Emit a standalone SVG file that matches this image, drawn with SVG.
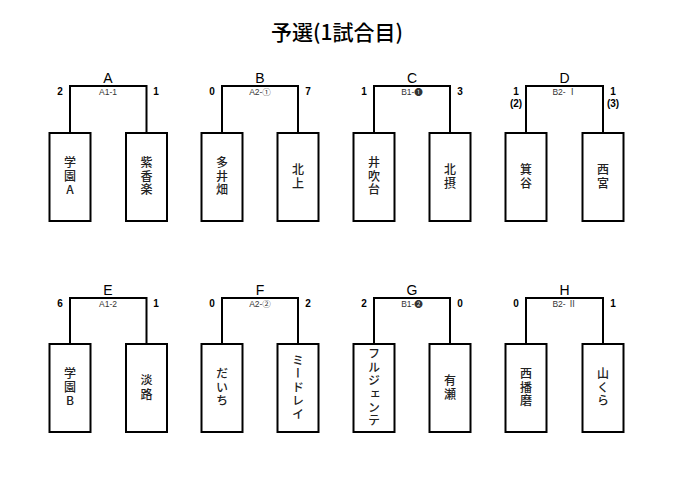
<svg xmlns="http://www.w3.org/2000/svg" width="689" height="502" viewBox="0 0 689 502">
<style>
.br{fill:none;stroke:#000;stroke-width:2}
.box{fill:#fff;stroke:#000;stroke-width:2}
.title{font-family:"Noto Sans CJK JP","Liberation Sans",sans-serif;font-size:21px;font-weight:500;text-anchor:middle}
.grp{font-family:"Liberation Sans","Noto Sans CJK JP",sans-serif;font-size:14px;text-anchor:middle}
.sc{font-family:"Liberation Sans","Noto Sans CJK JP",sans-serif;font-size:10px;font-weight:bold;text-anchor:middle}
.lb{font-family:"Liberation Sans","Noto Sans CJK JP",sans-serif;font-size:8.5px;text-anchor:middle;fill:#333}
.nm{font-family:"Noto Sans CJK JP",sans-serif;font-size:12px;font-weight:500;letter-spacing:1.4px;writing-mode:vertical-rl;text-orientation:upright;text-anchor:middle;fill:#222}
</style>
<rect width="689" height="502" fill="#fff"/>
<text class="title" x="337" y="40">予選(1試合目)</text>
<g id="connectors">
<path class="br" d="M70,133V86H146.5V133"/>
<path class="br" d="M222,133V86H298V133"/>
<path class="br" d="M374,133V86H450V133"/>
<path class="br" d="M526,133V86H603V133"/>
<path class="br" d="M70,344V298H146.5V344"/>
<path class="br" d="M222,344V298H298V344"/>
<path class="br" d="M374,344V298H450V344"/>
<path class="br" d="M526,344V298H603V344"/>
</g>
<g id="A">
<text class="grp" x="108" y="83">A</text>
<text class="sc" x="60" y="95">2</text><text class="sc" x="156" y="95">1</text>
<text class="lb" x="108" y="95">A1-1</text>
<rect class="box" x="49.5" y="133" width="41" height="88"/>
<text class="nm" x="70" y="177">学園A</text>
<rect class="box" x="126" y="133" width="41" height="88"/>
<text class="nm" x="146.5" y="177">紫香楽</text>
</g>
<g id="B">
<text class="grp" x="260" y="83">B</text>
<text class="sc" x="212" y="95">0</text><text class="sc" x="308" y="95">7</text>
<text class="lb" x="260" y="95">A2-①</text>
<rect class="box" x="201.5" y="133" width="41" height="88"/>
<text class="nm" x="222" y="177">多井畑</text>
<rect class="box" x="277.5" y="133" width="41" height="88"/>
<text class="nm" x="298" y="177">北上</text>
</g>
<g id="C">
<text class="grp" x="412" y="83">C</text>
<text class="sc" x="364" y="95">1</text><text class="sc" x="460" y="95">3</text>
<text class="lb" x="412" y="95">B1-❶</text>
<rect class="box" x="353.5" y="133" width="41" height="88"/>
<text class="nm" x="374" y="177">井吹台</text>
<rect class="box" x="429.5" y="133" width="41" height="88"/>
<text class="nm" x="450" y="177">北摂</text>
</g>
<g id="D">
<text class="grp" x="564.5" y="83">D</text>
<text class="sc" x="516" y="95">1</text><text class="sc" x="516" y="107">(2)</text>
<text class="sc" x="613" y="95">1</text><text class="sc" x="613" y="107">(3)</text>
<text class="lb" x="564.5" y="95">B2- Ⅰ</text>
<rect class="box" x="505.5" y="133" width="41" height="88"/>
<text class="nm" x="526" y="177">箕谷</text>
<rect class="box" x="582.5" y="133" width="41" height="88"/>
<text class="nm" x="603" y="177">西宮</text>
</g>
<g id="E">
<text class="grp" x="108" y="295">E</text>
<text class="sc" x="60" y="307">6</text><text class="sc" x="156" y="307">1</text>
<text class="lb" x="108" y="307">A1-2</text>
<rect class="box" x="49.5" y="344" width="41" height="88"/>
<text class="nm" x="70" y="388">学園B</text>
<rect class="box" x="126" y="344" width="41" height="88"/>
<text class="nm" x="146.5" y="388">淡路</text>
</g>
<g id="F">
<text class="grp" x="260" y="295">F</text>
<text class="sc" x="212" y="307">0</text><text class="sc" x="308" y="307">2</text>
<text class="lb" x="260" y="307">A2-②</text>
<rect class="box" x="201.5" y="344" width="41" height="88"/>
<text class="nm" x="222" y="388">だいち</text>
<rect class="box" x="277.5" y="344" width="41" height="88"/>
<text class="nm" x="298" y="388">ミードレイ</text>
</g>
<g id="G">
<text class="grp" x="412" y="295">G</text>
<text class="sc" x="364" y="307">2</text><text class="sc" x="460" y="307">0</text>
<text class="lb" x="412" y="307">B1-❷</text>
<rect class="box" x="353.5" y="344" width="41" height="88"/>
<text class="nm" x="374" y="388">フルジェンテ</text>
<rect class="box" x="429.5" y="344" width="41" height="88"/>
<text class="nm" x="450" y="388">有瀬</text>
</g>
<g id="H">
<text class="grp" x="564.5" y="295">H</text>
<text class="sc" x="516" y="307">0</text><text class="sc" x="613" y="307">1</text>
<text class="lb" x="564.5" y="307">B2- Ⅱ</text>
<rect class="box" x="505.5" y="344" width="41" height="88"/>
<text class="nm" x="526" y="388">西播磨</text>
<rect class="box" x="582.5" y="344" width="41" height="88"/>
<text class="nm" x="603" y="388">山くら</text>
</g>
</svg>
